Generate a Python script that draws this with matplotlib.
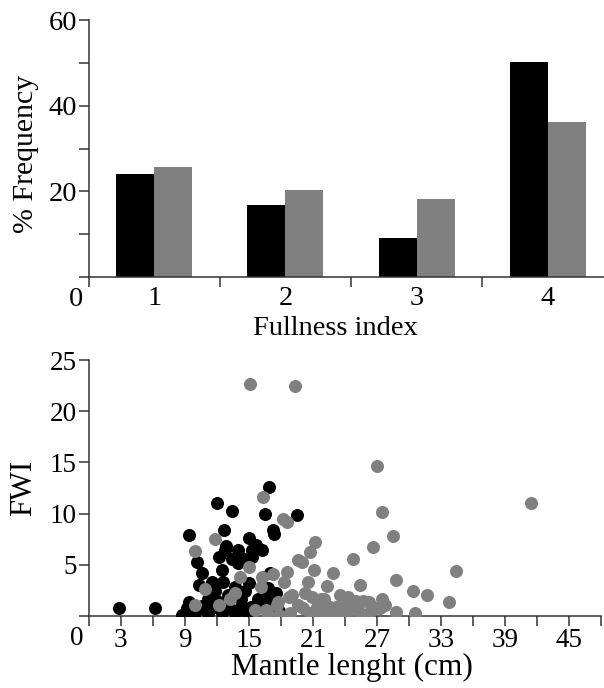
import matplotlib
matplotlib.use("Agg")
import matplotlib.pyplot as plt

plt.rcParams['font.family'] = ['Liberation Serif', 'DejaVu Serif']

# bar chart data (percent frequency per fullness index)
categories = [1, 2, 3, 4]
freq_black = [24.1, 16.7, 9.2, 50.3]
freq_gray = [25.6, 20.4, 18.3, 36.1]

# scatter data: mantle length (cm) vs FWI
black_x = [2.8, 6.2, 8.7, 9.7, 9.35, 9.4, 10.0, 10.1, 10.3, 10.6, 11.2, 11.2, 11.5, 11.8,
           11.8, 12.0, 12.2, 12.5, 12.5, 12.6, 12.7, 12.8, 12.9, 13.1, 13.4, 13.4, 13.7,
           13.7, 14.0, 14.3, 14.3, 14.5, 14.8, 15.0, 15.0, 15.3, 15.3, 15.7, 15.9, 16.2,
           16.5, 16.8, 16.9, 17.0, 16.8, 17.3, 17.4, 17.5, 17.8, 19.5, 14.8, 14.0, 13.0,
           14.6, 16.0, 15.2, 12.0, 10.6, 16.6, 9.2]
black_y = [0.8, 0.8, 0.1, 0.2, 1.4, 7.9, 0.25, 5.3, 3.0, 4.2, 1.7, 0.25, 3.35, 0.9,
           2.4, 11.0, 5.8, 4.5, 0.25, 3.35, 8.4, 6.4, 6.8, 0.9, 10.3, 5.6, 0.25,
           2.8, 6.4, 0.9, 1.7, 5.6, 0.25, 7.6, 3.2, 6.4, 5.8, 6.9, 1.7, 6.4,
           10.0, 2.7, 12.6, 4.2, 1.4, 8.4, 8.0, 2.2, 0.5, 9.9, 5.5, 5.2, 2.0,
           2.4, 0.9, 0.9, 1.5, 1.0, 2.4, 0.75]

gray_x = [15.1, 19.3, 27.0, 27.5, 41.4, 16.35, 18.2, 18.6, 28.5, 26.6, 21.2, 20.7, 19.6,
          20.0, 24.8, 11.8, 10.0, 34.4, 22.9, 21.1, 18.6, 17.3, 25.4, 28.8, 20.5, 20.3,
          20.9, 22.3, 30.4, 31.7, 33.8, 26.3, 27.5, 27.8, 23.5, 24.3, 25.0, 22.0, 28.8,
          30.6, 15.0, 14.2, 16.2, 10.9, 13.7, 13.2, 16.1, 12.2, 10.0, 15.6, 16.7, 17.8,
          18.3, 19.0, 17.6, 19.6, 20.1, 21.4, 22.0, 22.6, 23.2, 23.9, 24.5, 25.1, 18.9,
          20.7, 21.7, 22.9, 24.2, 25.4, 26.3, 26.8, 27.3, 22.4, 23.6, 16.6, 17.7, 18.8,
          21.8, 25.7]
gray_y = [22.7, 22.5, 14.6, 10.2, 11.0, 11.65, 9.45, 9.2, 7.8, 6.7, 7.2, 6.2, 5.5,
          5.3, 5.6, 7.5, 6.3, 4.4, 4.2, 4.5, 4.3, 4.1, 3.0, 3.5, 3.3, 2.2,
          1.9, 2.9, 2.4, 2.0, 1.4, 1.4, 1.7, 1.1, 2.05, 1.9, 1.5, 1.7, 0.35,
          0.25, 4.8, 3.8, 3.8, 2.6, 2.2, 1.7, 2.8, 1.1, 1.1, 0.6, 0.4, 0.1,
          3.3, 2.05, 1.1, 1.1, 0.75, 0.9, 0.9, 0.9, 0.9, 0.9, 0.9, 0.9, 0.3,
          0.3, 0.3, 0.3, 0.3, 0.3, 0.3, 0.8, 0.8, 0.0, 0.1, 0.6, 1.4, 1.9,
          1.7, 1.5]

GRAY = '#808080'
SPINE = '#333333'

fig = plt.figure(figsize=(6.04, 6.88), dpi=100)
ax1 = fig.add_axes([0.147, 0.5974, 0.853, 0.3735])
ax2 = fig.add_axes([0.147, 0.1047, 0.848, 0.372])


def style(ax, size):
    for s in ['top', 'right']:
        ax.spines[s].set_visible(False)
    for s in ['left', 'bottom']:
        ax.spines[s].set_color(SPINE)
        ax.spines[s].set_linewidth(1.1)
    ax.tick_params(direction='out', length=7.5, width=1.1, color=SPINE,
                   labelsize=size, pad=1)
    # origin label shared by both axes
    ax.annotate('0', xy=(0, 0), xycoords='axes fraction', xytext=(-4, -7.5),
                textcoords='offset points', ha='right', va='top', fontsize=size)


# top: bar chart
w = 0.29
ax1.bar([c - w / 2 for c in categories], freq_black, width=w, color='black')
ax1.bar([c + w / 2 for c in categories], freq_gray, width=w, color=GRAY)
ax1.set_xlim(0.5, 4.43)
ax1.set_ylim(0, 60)
ax1.set_yticks(range(0, 61, 10))
ax1.set_yticklabels(['', '', '20', '', '40', '', '60'])
ax1.set_xticks([0.5, 1.5, 2.5, 3.5])
ax1.set_xticklabels([])
ax1.set_xticks(categories, minor=True)
ax1.set_xticklabels([str(c) for c in categories], minor=True)
style(ax1, 20.5)
ax1.tick_params(axis='x', which='minor', length=0, pad=6.5, labelsize=20.5)
ax1.set_xlabel('Fullness index', fontsize=20.5)
ax1.xaxis.set_label_coords(0.478, -0.15)
ax1.set_ylabel('% Frequency', fontsize=21.5)
ax1.yaxis.set_label_coords(-0.097, 0.48)

# bottom: scatter
ax2.scatter(black_x, black_y, s=88, color='black', linewidths=0, zorder=3)
ax2.scatter(gray_x, gray_y, s=88, color=GRAY, linewidths=0, zorder=4)
ax2.set_xlim(0, 48)
ax2.set_ylim(0, 25)
ax2.set_yticks(range(0, 26, 5))
ax2.set_yticklabels(['', '5', '10', '15', '20', '25'])
ax2.set_xticks(range(0, 49, 3))
ax2.set_xticklabels(['' if (t % 6 == 0) else str(t) for t in range(0, 49, 3)])
style(ax2, 19.5)
ax2.set_xlabel('Mantle lenght (cm)', fontsize=22.5)
ax2.xaxis.set_label_coords(0.514, -0.145)
ax2.set_ylabel('FWI', fontsize=22)
ax2.yaxis.set_label_coords(-0.1, 0.5)
for a in (ax1, ax2):
    a.set_clip_on(False)

fig.savefig('out.png', dpi=100)
